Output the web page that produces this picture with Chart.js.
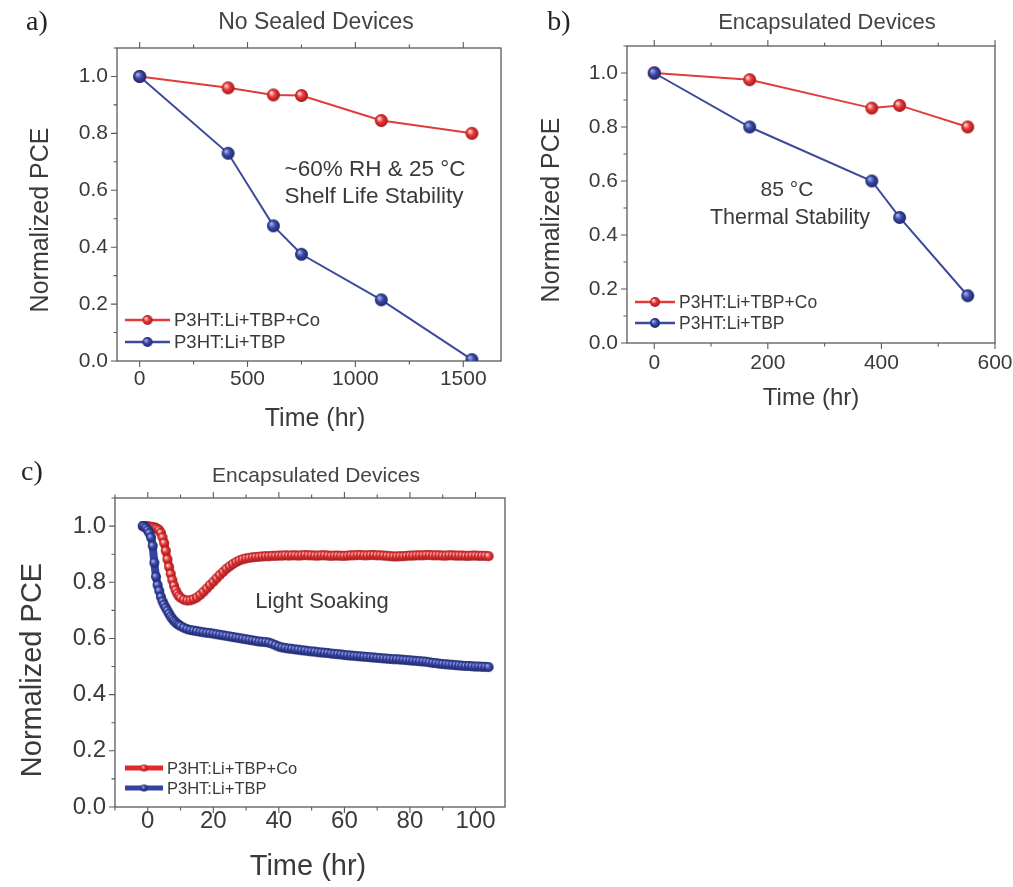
<!DOCTYPE html>
<html>
<head>
<meta charset="utf-8">
<script src="https://cdn.jsdelivr.net/npm/chart.js@4.4.1/dist/chart.umd.min.js"></script>
<style>
  html, body { margin: 0; padding: 0; background: #fff; }
  body { width: 1013px; height: 887px; position: relative; overflow: hidden; }
  canvas { position: absolute; }
</style>
</head>
<body>
<canvas id="chartA" width="530" height="440" style="left:0;top:0"></canvas>
<canvas id="chartB" width="530" height="430" style="left:510px;top:0"></canvas>
<canvas id="chartC" width="540" height="437" style="left:0;top:450px"></canvas>
<script>
// ---- data ----
const seriesNames = ['P3HT:Li+TBP+Co', 'P3HT:Li+TBP'];

// a) shelf life, unsealed
const shelfTime = [0, 410, 620, 750, 1120, 1540];
const shelfCo = [1.0, 0.96, 0.935, 0.933, 0.845, 0.80];
const shelfNoCo = [1.0, 0.73, 0.475, 0.375, 0.215, 0.005];

// b) 85 °C thermal stress, encapsulated
const thermalTime = [0, 168, 383, 432, 552];
const thermalCo = [1.0, 0.975, 0.87, 0.88, 0.80];
const thermalNoCo = [1.0, 0.80, 0.60, 0.465, 0.175];

// c) light soaking, encapsulated
const soakTime = [-1.5, -1, -0.5, 0, 0.5, 1, 1.5, 2, 2.5, 3, 3.5, 4, 4.5, 5, 5.5, 6, 6.5, 7, 7.5, 8, 8.5, 9, 9.5, 10,
  11, 12, 13, 14, 15, 16, 17, 18, 19, 20, 21, 22, 23, 24, 25, 26, 27, 28, 29, 30,
  31, 32, 33, 34, 35, 36, 37, 38, 39, 40, 41, 42, 43, 44, 45, 46, 47, 48, 49, 50,
  51, 52, 53, 54, 55, 56, 57, 58, 59, 60, 61, 62, 63, 64, 65, 66, 67, 68, 69, 70,
  71, 72, 73, 74, 75, 76, 77, 78, 79, 80, 81, 82, 83, 84, 85, 86, 87, 88, 89, 90,
  91, 92, 93, 94, 95, 96, 97, 98, 99, 100, 101, 102, 103, 104];
const soakCo = [1.000, 1.000, 1.000, 0.999, 0.998, 0.997, 0.996, 0.995, 0.993, 0.990, 0.985, 0.976, 0.960, 0.940, 0.912, 0.882, 0.855, 0.830, 0.808, 0.788, 0.772, 0.760, 0.751, 0.745,
  0.738, 0.735, 0.736, 0.740, 0.746, 0.755, 0.766, 0.778, 0.790, 0.802, 0.814, 0.826, 0.837, 0.848, 0.857, 0.865, 0.872, 0.878, 0.882, 0.885,
  0.887, 0.889, 0.890, 0.891, 0.892, 0.893, 0.893, 0.894, 0.894, 0.895, 0.895, 0.896, 0.895, 0.896, 0.896, 0.895, 0.896, 0.897, 0.896, 0.896,
  0.895, 0.895, 0.896, 0.896, 0.895, 0.894, 0.895, 0.895, 0.894, 0.894, 0.895, 0.896, 0.896, 0.897, 0.897, 0.896, 0.896, 0.897, 0.897, 0.896,
  0.896, 0.895, 0.894, 0.893, 0.892, 0.892, 0.893, 0.893, 0.894, 0.895, 0.895, 0.896, 0.896, 0.896, 0.897, 0.897, 0.896, 0.896, 0.896, 0.895,
  0.895, 0.896, 0.896, 0.895, 0.895, 0.895, 0.894, 0.894, 0.895, 0.895, 0.894, 0.894, 0.894, 0.893];
const soakNoCo = [1.000, 0.998, 0.993, 0.985, 0.975, 0.960, 0.930, 0.870, 0.820, 0.790, 0.770, 0.748, 0.732, 0.720, 0.709, 0.699, 0.688, 0.678, 0.670, 0.663, 0.657, 0.652, 0.648, 0.644,
  0.638, 0.633, 0.630, 0.628, 0.626, 0.624, 0.622, 0.620, 0.619, 0.617, 0.615, 0.613, 0.611, 0.609, 0.607, 0.605, 0.603, 0.601, 0.599, 0.597,
  0.595, 0.593, 0.591, 0.589, 0.588, 0.587, 0.585, 0.581, 0.576, 0.571, 0.568, 0.566, 0.564, 0.563, 0.561, 0.560, 0.558, 0.557, 0.555, 0.554,
  0.553, 0.551, 0.550, 0.549, 0.548, 0.546, 0.545, 0.544, 0.543, 0.541, 0.540, 0.539, 0.538, 0.537, 0.536, 0.535, 0.534, 0.533, 0.532, 0.531,
  0.530, 0.529, 0.528, 0.527, 0.526, 0.526, 0.525, 0.524, 0.523, 0.522, 0.521, 0.520, 0.519, 0.518, 0.517, 0.515, 0.513, 0.512, 0.510, 0.509,
  0.508, 0.507, 0.506, 0.505, 0.504, 0.503, 0.502, 0.502, 0.501, 0.500, 0.500, 0.499, 0.499, 0.498];

// axis ticks
const pceTicks = [0, 0.2, 0.4, 0.6, 0.8, 1.0];
const shelfTicks = [0, 500, 1000, 1500];
const thermalTicks = [0, 200, 400, 600];
const soakTicks = [0, 20, 40, 60, 80, 100];

// ---- styling ----
const SANS = "'Liberation Sans', Arial, Helvetica, sans-serif";
const SERIF = "'Liberation Serif', 'Times New Roman', serif";
const TEXT = '#3a3a3a';
const FRAME = '#5a5a5a';
const RED = '#e03c3c';
const BLUE = '#3b4a9c';

// shaded sphere used as point marker
function makeBall(r, light, base, dark) {
  const size = Math.ceil(r * 2 + 2);
  const c = document.createElement('canvas');
  c.width = size; c.height = size;
  const g = c.getContext('2d');
  const m = size / 2;
  const grad = g.createRadialGradient(m - r * 0.35, m - r * 0.35, r * 0.1, m, m, r);
  grad.addColorStop(0, light);
  grad.addColorStop(0.45, base);
  grad.addColorStop(1, dark);
  g.fillStyle = grad;
  g.beginPath();
  g.arc(m, m, r, 0, Math.PI * 2);
  g.fill();
  return c;
}
const redBall = r => makeBall(r, '#ffd0d0', '#e8383a', '#a01818');
const blueBall = r => makeBall(r, '#a4aeea', '#3a4aa8', '#1c2468');

function minorsOf(major, min, max) {
  const step = major[1] - major[0];
  const out = [];
  for (let v = major[0] - step / 2; v <= max + 1e-9; v += step) {
    if (v >= min - 1e-9) out.push(v);
  }
  return out;
}

// frame, minor ticks, labels and inset legend
function decor(spec) {
  return {
    id: 'decor',
    beforeDatasetsDraw(chart) {
      const { ctx, chartArea: a, scales: { x, y } } = chart;
      ctx.save();
      ctx.strokeStyle = FRAME;
      ctx.lineWidth = 1.3;
      ctx.strokeRect(a.left, a.top, a.right - a.left, a.bottom - a.top);
      ctx.lineWidth = 1.1;
      ctx.beginPath();
      const xMinor = minorsOf(spec.xTicks, x.min, x.max);
      const yMinor = minorsOf(pceTicks, y.min, y.max);
      spec.xTicks.forEach(v => {
        const px = x.getPixelForValue(v);
        ctx.moveTo(px, a.bottom); ctx.lineTo(px, a.bottom + 6);
        ctx.moveTo(px, a.top); ctx.lineTo(px, a.top - 6);
      });
      xMinor.forEach(v => {
        const px = x.getPixelForValue(v);
        ctx.moveTo(px, a.bottom); ctx.lineTo(px, a.bottom + 3.5);
        ctx.moveTo(px, a.top); ctx.lineTo(px, a.top - 3.5);
      });
      pceTicks.forEach(v => {
        const py = y.getPixelForValue(v);
        ctx.moveTo(a.left, py); ctx.lineTo(a.left - 6, py);
      });
      yMinor.forEach(v => {
        const py = y.getPixelForValue(v);
        ctx.moveTo(a.left, py); ctx.lineTo(a.left - 3.5, py);
      });
      ctx.stroke();
      ctx.restore();
    },
    afterDraw(chart) {
      const { ctx } = chart;
      ctx.save();
      ctx.textAlign = 'center';
      ctx.textBaseline = 'middle';
      spec.texts.forEach(t => {
        ctx.save();
        ctx.font = t.font;
        ctx.fillStyle = t.color || TEXT;
        ctx.translate(t.x, t.y);
        if (t.rotate) ctx.rotate(-Math.PI / 2);
        ctx.fillText(t.text, 0, 0);
        ctx.restore();
      });
      const lg = spec.legend;
      ctx.textAlign = 'left';
      ctx.font = lg.font;
      ctx.fillStyle = TEXT;
      lg.rows.forEach((rowY, i) => {
        const ds = chart.data.datasets[i];
        ctx.strokeStyle = ds.borderColor;
        ctx.lineWidth = lg.lineWidth;
        ctx.beginPath();
        ctx.moveTo(lg.x1, rowY); ctx.lineTo(lg.x2, rowY);
        ctx.stroke();
        const b = lg.balls[i];
        ctx.drawImage(b, (lg.x1 + lg.x2) / 2 - b.width / 2, rowY - b.height / 2);
        ctx.fillText(ds.label, lg.textX, rowY + 1);
      });
      ctx.restore();
    }
  };
}

function series(times, vals) {
  return times.map((t, i) => ({ x: t, y: vals[i] }));
}

function makePanel(id, spec) {
  const datasets = [
    {
      label: seriesNames[0],
      data: series(spec.time, spec.co),
      borderColor: spec.red || RED,
      borderWidth: spec.lineWidth,
      pointStyle: spec.balls[0],
      pointRadius: spec.ballR,
      tension: 0,
      order: 1
    },
    {
      label: seriesNames[1],
      data: series(spec.time, spec.noCo),
      borderColor: spec.blue || BLUE,
      borderWidth: spec.lineWidth,
      pointStyle: spec.balls[1],
      pointRadius: spec.ballR,
      tension: 0,
      order: 0
    }
  ];
  return new Chart(document.getElementById(id), {
    type: 'line',
    data: { datasets },
    options: {
      responsive: false,
      animation: false,
      layout: { padding: { left: 0, top: spec.area.top, right: spec.area.right, bottom: 0 } },
      plugins: { legend: { display: false }, tooltip: { enabled: false } },
      scales: {
        x: {
          type: 'linear',
          min: spec.xMin,
          max: spec.xMax,
          grid: { display: false, drawTicks: false },
          border: { display: false },
          afterBuildTicks: s => { s.ticks = spec.xTicks.map(v => ({ value: v })); },
          afterFit: s => { s.height = spec.area.xHeight; },
          ticks: {
            autoSkip: false,
            maxRotation: 0,
            padding: spec.xPad,
            color: TEXT,
            font: { family: SANS, size: spec.tickSize },
            callback: v => String(v)
          }
        },
        y: {
          min: 0,
          max: 1.1,
          grid: { display: false, drawTicks: false },
          border: { display: false },
          afterBuildTicks: s => { s.ticks = pceTicks.map(v => ({ value: v })); },
          afterFit: s => { s.width = spec.area.yWidth; },
          ticks: {
            padding: 9,
            color: TEXT,
            font: { family: SANS, size: spec.tickSize },
            callback: v => v.toFixed(1)
          }
        }
      }
    },
    plugins: [decor(spec)]
  });
}

// a) No Sealed Devices
makePanel('chartA', {
  time: shelfTime, co: shelfCo, noCo: shelfNoCo,
  xMin: -105, xMax: 1675, xTicks: shelfTicks,
  area: { top: 48, right: 29, yWidth: 117, xHeight: 79 },
  xPad: 6, tickSize: 21, lineWidth: 2,
  balls: [redBall(6.5), blueBall(6.5)], ballR: 6,
  texts: [
    { text: 'a)', x: 37, y: 23, font: `28px ${SERIF}`, color: '#222' },
    { text: 'No Sealed Devices', x: 316, y: 23, font: `23px ${SANS}`, color: '#444' },
    { text: 'Normalized PCE', x: 41, y: 220, font: `25px ${SANS}`, rotate: true },
    { text: 'Time (hr)', x: 315, y: 419, font: `25px ${SANS}` },
    { text: '~60% RH & 25 °C', x: 375, y: 170, font: `22.5px ${SANS}` },
    { text: 'Shelf Life Stability', x: 374, y: 197, font: `22.5px ${SANS}` }
  ],
  legend: { rows: [320, 342], x1: 125, x2: 170, textX: 174, font: `18.5px ${SANS}`, lineWidth: 2.5,
    balls: [redBall(5), blueBall(5)] }
});

// b) Encapsulated, 85 °C
makePanel('chartB', {
  time: thermalTime, co: thermalCo, noCo: thermalNoCo,
  xMin: -48, xMax: 600, xTicks: thermalTicks,
  area: { top: 46, right: 45, yWidth: 117, xHeight: 87 },
  xPad: 8, tickSize: 21, lineWidth: 2,
  balls: [redBall(6.5), blueBall(6.5)], ballR: 6,
  texts: [
    { text: 'b)', x: 49, y: 23, font: `28px ${SERIF}`, color: '#222' },
    { text: 'Encapsulated Devices', x: 317, y: 23, font: `22px ${SANS}`, color: '#444' },
    { text: 'Normalized PCE', x: 42, y: 210, font: `25px ${SANS}`, rotate: true },
    { text: 'Time (hr)', x: 301, y: 398, font: `24px ${SANS}` },
    { text: '85 °C', x: 277, y: 190, font: `21px ${SANS}` },
    { text: 'Thermal Stability', x: 280, y: 218, font: `21.5px ${SANS}` }
  ],
  legend: { rows: [302, 323], x1: 125, x2: 165, textX: 169, font: `17.5px ${SANS}`, lineWidth: 2.5,
    balls: [redBall(5), blueBall(5)] }
});

// c) Encapsulated, light soaking
makePanel('chartC', {
  time: soakTime, co: soakCo, noCo: soakNoCo,
  xMin: -10, xMax: 109, xTicks: soakTicks,
  area: { top: 48, right: 35, yWidth: 115, xHeight: 80 },
  xPad: 0, tickSize: 24, lineWidth: 8,
  red: '#e5262b', blue: '#3442a2',
  balls: [redBall(5), blueBall(5)], ballR: 5,
  texts: [
    { text: 'c)', x: 32, y: 23, font: `28px ${SERIF}`, color: '#222' },
    { text: 'Encapsulated Devices', x: 316, y: 26, font: `21px ${SANS}`, color: '#444' },
    { text: 'Normalized PCE', x: 33, y: 220, font: `29px ${SANS}`, rotate: true },
    { text: 'Time (hr)', x: 308, y: 417, font: `29px ${SANS}` },
    { text: 'Light Soaking', x: 322, y: 152, font: `22px ${SANS}` }
  ],
  legend: { rows: [318, 338], x1: 125, x2: 163, textX: 167, font: `16.5px ${SANS}`, lineWidth: 5,
    balls: [redBall(3.5), blueBall(3.5)] }
});
</script>
</body>
</html>
